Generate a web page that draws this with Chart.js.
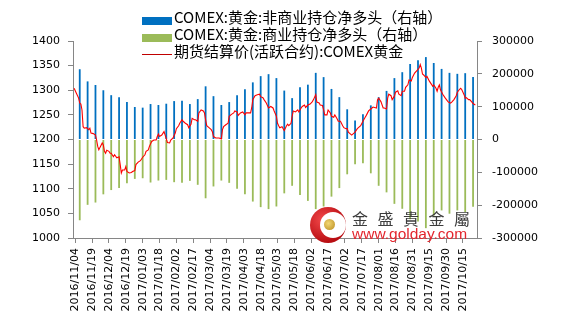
<!DOCTYPE html>
<html>
<head>
<meta charset="utf-8">
<title>COMEX黄金持仓与期货结算价</title>
<script src="https://cdn.jsdelivr.net/npm/chart.js@4.4.1/dist/chart.umd.min.js"></script>
<style>
body{margin:0;background:#fff;}
#wrap{position:relative;width:564px;height:323px;overflow:hidden;}
#cot{display:block;}
#legend{position:absolute;left:142px;top:8px;font-family:"Noto Sans CJK SC",sans-serif;font-size:15px;color:#000;}
#legend .row{height:17px;line-height:17px;white-space:nowrap;}
#legend .sw{display:inline-block;width:30px;margin-right:2px;vertical-align:middle;position:relative;top:2px;}
#logo{position:absolute;left:310px;top:207px;width:36px;height:36px;border-radius:50%;
  background:radial-gradient(circle at 35% 35%,#f2484a,#b80d12 70%);}
#logo .cut{position:absolute;left:10px;top:5px;width:26px;height:26px;border-radius:50%;background:#fff;}
#logo .dot{position:absolute;left:14px;top:12px;width:11px;height:11px;border-radius:50%;
  background:radial-gradient(circle at 40% 40%,#f3d774,#b88a1c);}
#brand{position:absolute;left:352px;top:206px;font-family:"Noto Sans CJK TC",serif;font-size:16px;letter-spacing:9.5px;color:#3c3c3c;white-space:nowrap;}
#site{position:absolute;left:352px;top:225px;font-family:"Liberation Sans",Arial,sans-serif;font-size:15.5px;color:#e3262e;white-space:nowrap;}
</style>
</head>
<body>
<div id="wrap">
  <canvas id="cot" width="564" height="323"></canvas>
  <div id="legend"></div>
  <div id="logo"><div class="cut"></div><div class="dot"></div></div>
  <div id="brand">金盛貴金屬</div>
  <div id="site">www.golday.com</div>
</div>
<script>
/* x axis labels, one every 15 days */
var xTickLabels = ['2016/11/04','2016/11/19','2016/12/04','2016/12/19','2017/01/03','2017/01/18',
	'2017/02/02','2017/02/17','2017/03/04','2017/03/19','2017/04/03','2017/04/18',
	'2017/05/03','2017/05/18','2017/06/02','2017/06/17','2017/07/02','2017/07/17',
	'2017/08/01','2017/08/16','2017/08/31','2017/09/15','2017/09/30','2017/10/15'];

/* weekly COT report dates */
var cotDates = ['2016/11/08','2016/11/15','2016/11/22','2016/11/29','2016/12/06','2016/12/13','2016/12/20','2016/12/27',
	'2017/01/03','2017/01/10','2017/01/17','2017/01/24','2017/01/31','2017/02/07','2017/02/14','2017/02/21','2017/02/28',
	'2017/03/07','2017/03/14','2017/03/21','2017/03/28','2017/04/04','2017/04/11','2017/04/18','2017/04/25',
	'2017/05/02','2017/05/09','2017/05/16','2017/05/23','2017/05/30','2017/06/06','2017/06/13','2017/06/20','2017/06/27',
	'2017/07/04','2017/07/11','2017/07/18','2017/07/25','2017/08/01','2017/08/08','2017/08/15','2017/08/22','2017/08/29',
	'2017/09/05','2017/09/12','2017/09/19','2017/09/26','2017/10/03','2017/10/10','2017/10/17','2017/10/24'];

/* COMEX gold: non-commercial net long (contracts) */
var nonCommNet = [214000,177000,166000,150000,135000,129000,114000,99000,97000,108000,105000,109000,117000,
	118000,108000,123000,162000,132000,105000,114000,135000,153000,174000,193000,199000,
	187000,149000,126000,159000,167000,203000,190000,154000,129000,92000,58000,77000,104000,
	129000,148000,187000,205000,230000,241000,251000,233000,215000,203000,200000,202000,190000];

/* COMEX gold: commercial net long (contracts) */
var commNet = [-246000,-199000,-192000,-167000,-154000,-148000,-133000,-120000,-118000,-131000,-125000,-123000,-130000,
	-132000,-126000,-138000,-179000,-143000,-125000,-132000,-150000,-167000,-189000,-206000,-212000,
	-204000,-164000,-141000,-169000,-187000,-212000,-204000,-174000,-148000,-106000,-75000,-72000,-103000,
	-141000,-161000,-196000,-211000,-243000,-250000,-270000,-232000,-216000,-226000,-216000,-221000,-205000];

/* settlement price of the active contract, days counted from 2016/11/04 */
var priceDays = [-1,1,3,4,5,6,7,8,10,12,
	13,14,16,18,19,20,21,22,24,25,
	26,27,28,30,31,32,34,35,37,39,
	40,41,42,44,45,46,48,50,51,53,
	54,56,58,60,62,63,65,66,68,70,
	72,73,74,75,77,79,80,82,84,85,
	87,89,90,92,93,95,96,98,100,101,
	103,104,106,107,109,110,112,114,115,116,
	117,119,121,122,123,125,126,128,130,131,
	132,134,136,137,139,141,142,144,145,147,
	149,151,152,154,156,157,158,160,162,164,
	165,167,168,170,172,174,176,177,179,180,
	181,182,184,185,186,188,189,190,192,193,
	194,196,198,199,201,202,204,205,207,209,
	211,212,214,215,217,218,220,221,222,224,
	225,227,228,230,231,233,234,236,238,239,
	241,242,243,245,246,248,249,251,252,254,
	256,258,259,261,263,265,268,269,270,272,
	274,275,277,278,279,281,282,284,285,287,
	288,290,291,293,294,296,297,299,300,302,
	304,306,307,308,309,310,312,313,315,317,
	318,319,321,322,323,324,325,327,329,331,
	332,334,335,337,339,340,342,343,344,346,
	347,348,350,351,353,354,356];

var priceValues = [1304,1294,1284,1274,1272,1260,1226,1223,1224,1220,
	1223,1213,1212,1209,1199,1186,1179,1184,1193,1189,
	1176,1172,1178,1176,1172,1172,1165,1169,1163,1165,
	1149,1132,1138,1138,1145,1135,1132,1133,1135,1137,
	1149,1154,1157,1164,1169,1176,1179,1186,1196,1199,
	1199,1206,1211,1206,1209,1216,1209,1194,1193,1199,
	1203,1213,1222,1228,1233,1240,1237,1233,1230,1224,
	1231,1243,1240,1240,1237,1254,1260,1258,1254,1240,
	1228,1224,1220,1216,1206,1203,1203,1203,1201,1220,
	1226,1230,1233,1247,1251,1254,1258,1256,1249,1254,
	1256,1250,1254,1254,1254,1264,1281,1289,1291,1292,
	1287,1285,1281,1274,1264,1267,1264,1258,1247,1233,
	1228,1224,1226,1222,1218,1228,1231,1228,1233,1247,
	1258,1256,1260,1256,1264,1267,1270,1265,1270,1272,
	1277,1281,1291,1276,1274,1270,1269,1260,1250,1250,
	1260,1254,1247,1245,1250,1242,1237,1237,1228,1224,
	1222,1222,1215,1211,1209,1213,1215,1222,1224,1228,
	1237,1245,1249,1258,1262,1266,1264,1281,1284,1277,
	1264,1264,1262,1284,1292,1289,1281,1288,1296,1299,
	1292,1289,1298,1298,1306,1311,1321,1319,1326,1335,
	1340,1345,1352,1345,1333,1331,1326,1328,1319,1312,
	1308,1311,1304,1298,1306,1311,1301,1292,1285,1279,
	1276,1274,1276,1281,1289,1296,1302,1304,1301,1291,
	1284,1285,1281,1281,1276,1273,1270];

/* days since the first x label */
function dayNum(s){
	var p = s.split('/');
	var b = xTickLabels[0].split('/');
	return (Date.UTC(+p[0], p[1]-1, +p[2]) - Date.UTC(+b[0], b[1]-1, +b[2])) / 86400000;
}

var tickDays = xTickLabels.map(dayNum);

function barPoints(values){
	var pts = [];
	for(var i = 0; i < cotDates.length; i++){
		pts.push({x: dayNum(cotDates[i]), y: values[i]});
	}
	return pts;
}

var pricePoints = [];
for(var i = 0; i < priceDays.length; i++){
	pricePoints.push({x: priceDays[i], y: priceValues[i]});
}

var axisGrey = '#868686';
var tickFont = {family: 'DejaVu Sans', size: 11};

var chart = new Chart(document.getElementById('cot'), {
	type: 'bar',
	data: {
		datasets: [{
			type: 'line',
			label: '期货结算价(活跃合约):COMEX黄金',
			data: pricePoints,
			yAxisID: 'y',
			borderColor: '#FF0000',
			backgroundColor: '#FF0000',
			borderWidth: 1.1,
			pointRadius: 0,
			tension: 0,
			order: 0
		},{
			label: 'COMEX:黄金:非商业持仓净多头（右轴）',
			data: barPoints(nonCommNet),
			yAxisID: 'y1',
			backgroundColor: '#0070C0',
			grouped: false,
			barPercentage: 0.25,
			categoryPercentage: 1,
			maxBarThickness: 1.8,
			order: 1
		},{
			label: 'COMEX:黄金:商业持仓净多头（右轴）',
			data: barPoints(commNet),
			yAxisID: 'y1',
			backgroundColor: '#9BBB59',
			grouped: false,
			barPercentage: 0.25,
			categoryPercentage: 1,
			maxBarThickness: 1.8,
			order: 1
		}]
	},
	options: {
		responsive: false,
		animation: false,
		devicePixelRatio: 1,
		layout: {padding: {top: 41, left: 0, right: 0, bottom: 0}},
		plugins: {legend: {display: false}, tooltip: {enabled: false}},
		scales: {
			x: {
				type: 'linear',
				min: -2,
				max: 357.5,
				offset: false,
				afterBuildTicks: function(scale){
					scale.ticks = tickDays.map(function(v){ return {value: v}; });
				},
				afterFit: function(scale){ scale.height = 85; },
				grid: {drawOnChartArea: false, drawTicks: true, tickLength: 5, color: axisGrey, offset: false},
				border: {display: true, color: axisGrey},
				ticks: {
					autoSkip: false, minRotation: 90, maxRotation: 90, padding: 5,
					color: '#000', font: tickFont,
					callback: function(v, i){ return xTickLabels[i]; }
				}
			},
			y: {
				position: 'left',
				min: 1000,
				max: 1400,
				afterFit: function(scale){ scale.width = 73; },
				grid: {drawOnChartArea: false, tickLength: 5, color: axisGrey},
				border: {display: true, color: axisGrey},
				ticks: {stepSize: 50, padding: 8, color: '#000', font: tickFont,
					callback: function(v){ return String(v); }}
			},
			y1: {
				position: 'right',
				min: -300000,
				max: 300000,
				afterFit: function(scale){ scale.width = 87; },
				grid: {drawOnChartArea: false, tickLength: 5, color: axisGrey},
				border: {display: true, color: axisGrey},
				ticks: {stepSize: 100000, padding: 10, color: '#000', font: tickFont,
					callback: function(v){ return String(v); }}
			}
		}
	}
});

/* legend rows: bars first, then the price line */
function buildLegend(ch){
	var order = [1, 2, 0];
	var html = '';
	for(var k = 0; k < order.length; k++){
		var ds = ch.data.datasets[order[k]];
		var sw = ds.type === 'line'
			? '<span class="sw" style="height:0;border-top:1px solid #C00000;"></span>'
			: '<span class="sw" style="height:8px;background:' + ds.backgroundColor + ';"></span>';
		html += '<div class="row">' + sw + ds.label + '</div>';
	}
	document.getElementById('legend').innerHTML = html;
}
buildLegend(chart);
</script>
</body>
</html>
